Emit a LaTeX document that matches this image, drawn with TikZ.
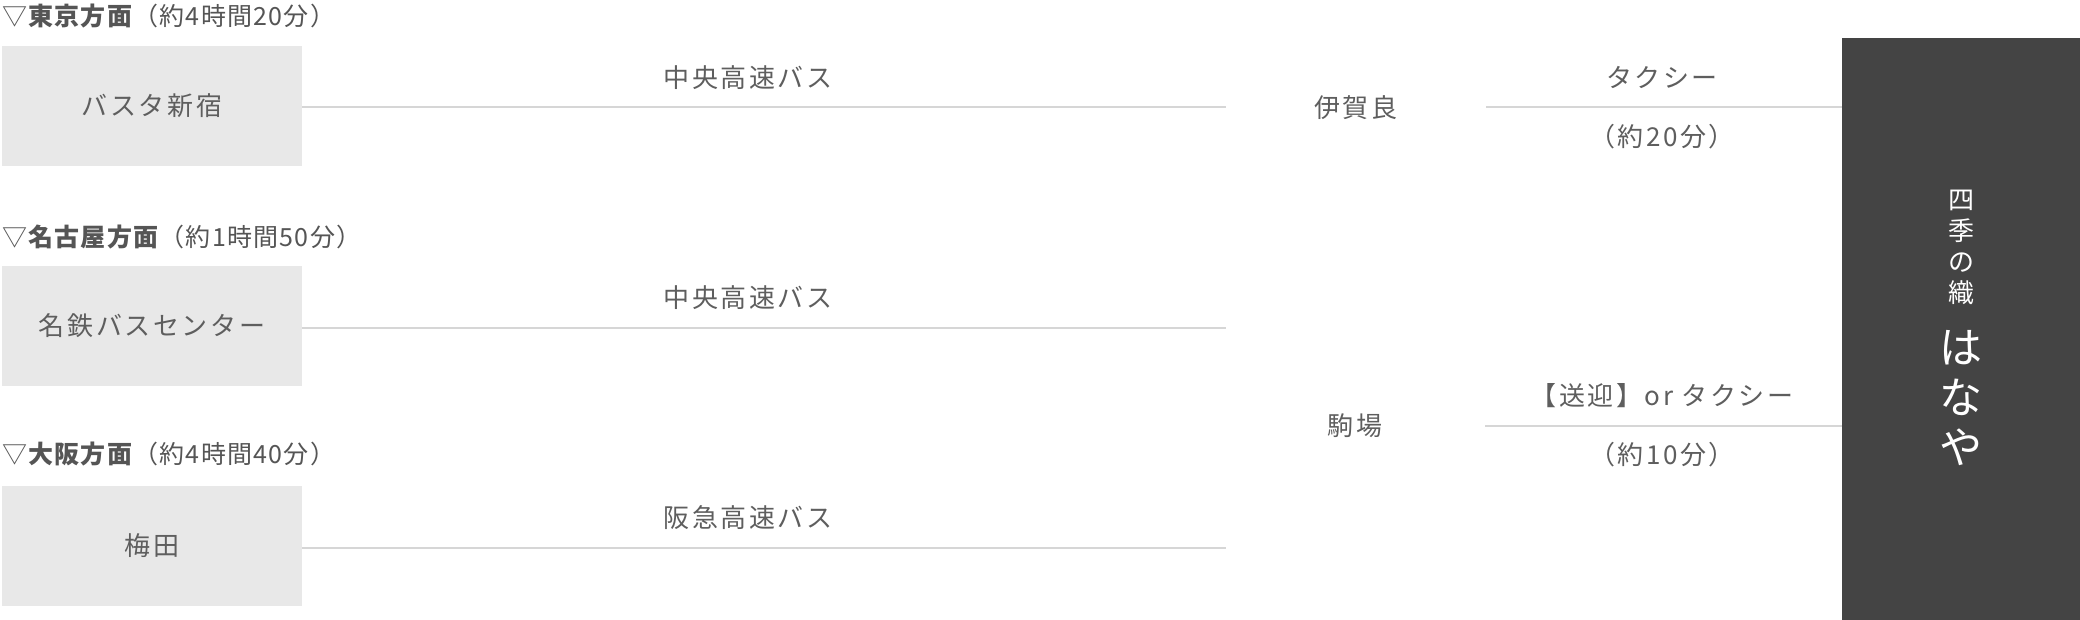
\documentclass[tikz,border=0pt]{standalone}
\usepackage{fontspec}
\setmainfont{Noto Sans CJK JP}
\definecolor{boxfill}{HTML}{E8E8E8}
\definecolor{linecol}{HTML}{D6D6D6}
\definecolor{txt}{HTML}{5E5E5E}
\definecolor{headtxt}{HTML}{555555}
\definecolor{panelcol}{HTML}{444444}
\begin{document}
\begin{tikzpicture}[x=1pt,y=-1pt,
  stationbox/.style={fill=boxfill, minimum width=300pt, minimum height=120pt, inner sep=0pt, text=txt,
    font=\fontsize{26}{30}\selectfont\addfontfeatures{LetterSpace=10}},
  stopnode/.style={minimum width=260pt, inner sep=0pt, text=txt,
    font=\fontsize{26}{30}\selectfont\addfontfeatures{LetterSpace=10}},
  lbl/.style={inner sep=0pt, text=txt,
    font=\fontsize{26}{30}\selectfont\addfontfeatures{LetterSpace=10}},
  head/.style={anchor=west, inner sep=0pt, text=headtxt,
    font=\fontsize{25}{28}\selectfont\addfontfeatures{LetterSpace=5}},
  conn/.style={draw=linecol, line width=2pt},
  vsmall/.style={text=white, align=center, inner sep=0pt,
    font=\fontsize{26}{31}\selectfont},
  vbig/.style={text=white, align=center, inner sep=0pt,
    font=\fontsize{43}{50}\selectfont}
]
\useasboundingbox (0,0) rectangle (2080,620);

% headers
\node[head] (h1) at (2,16) {▽\textbf{東京方面}（約4時間20分）};
\node[head] (h2) at (2,237) {▽\textbf{名古屋方面}（約1時間50分）};
\node[head] (h3) at (2,454) {▽\textbf{大阪方面}（約4時間40分）};

% origin boxes
\node[stationbox] (box1) at (152,106) {バスタ新宿};
\node[stationbox] (box2) at (152,326) {名鉄バスセンター};
\node[stationbox] (box3) at (152,546) {梅田};

% stops
\node[stopnode] (iragi) at (1356,107.5) {伊賀良};
\node[stopnode] (komaba) at (1355,426) {駒場};

% destination panel
\node[fill=panelcol, minimum width=238pt, minimum height=582pt, inner sep=0pt] (panel) at (1961,329) {};
\node[vsmall] (shiki) at (1961,247) {四\\季\\の\\織};
\node[vbig] (hanaya) at (1961,398) {は\\な\\や};

% free ends of bus lines
\coordinate (e2) at (1226,327.5);
\coordinate (e3) at (1226,547.5);

% connectors
\draw[conn] ([yshift=-1.5pt]box1.east) -- (iragi.west);
\draw[conn] (iragi.east) -- (iragi.east -| panel.west);
\draw[conn] ([yshift=-1.5pt]box2.east) -- (e2);
\draw[conn] ([yshift=-1.5pt]box3.east) -- (e3);
\draw[conn] (komaba.east) -- (komaba.east -| panel.west);

% connector labels
\node[lbl] (l1) at (748,78) {中央高速バス};
\node[lbl] (l2) at (748,298) {中央高速バス};
\node[lbl] (l3) at (748,518) {阪急高速バス};
\node[lbl] (t1) at (1662,77) {タクシー};
\node[lbl] (t1b) at (1662,137) {（約20分）};
\node[lbl] (t2) at (1662,396) {【送迎】or タクシー};
\node[lbl] (t2b) at (1662,455) {（約10分）};
\end{tikzpicture}
\end{document}
